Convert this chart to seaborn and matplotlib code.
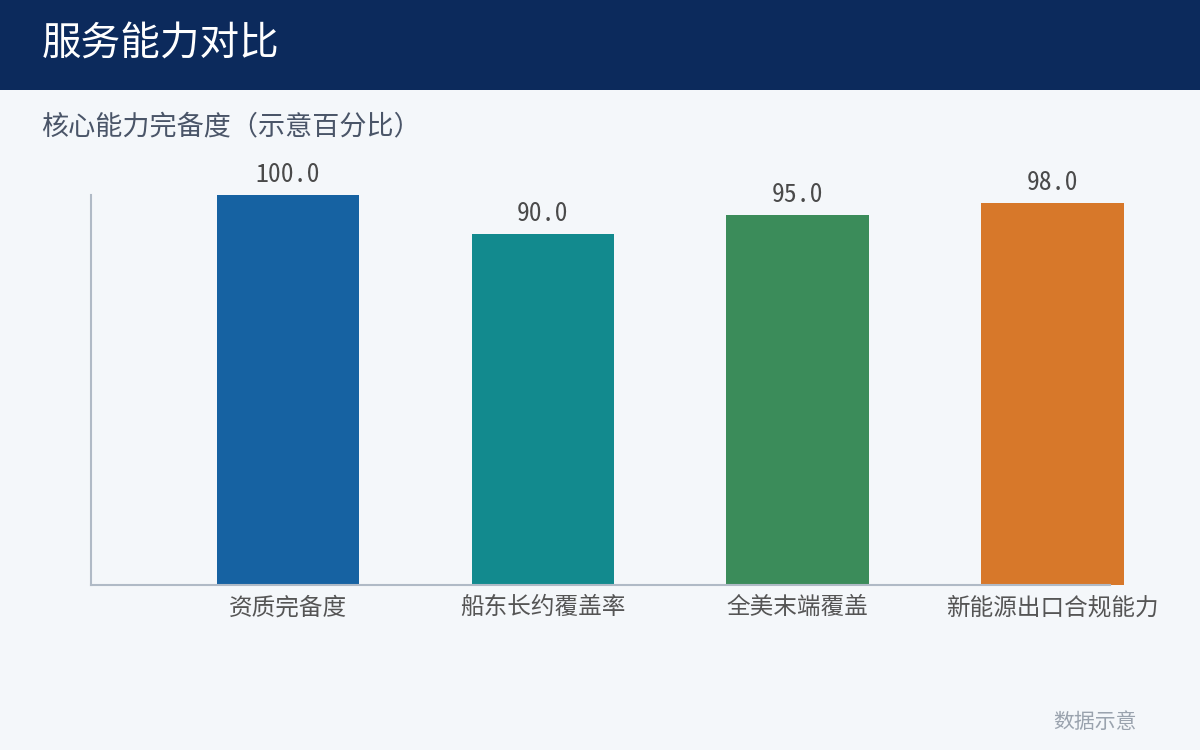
import matplotlib
matplotlib.use("Agg")
import matplotlib.pyplot as plt
import seaborn as sns
import pandas as pd
from matplotlib.patches import Rectangle

categories = ["资质完备度", "船东长约覆盖率", "全美末端覆盖", "新能源出口合规能力"]
values = [100.0, 90.0, 95.0, 98.0]
bar_colors = ["#1662A2", "#128A8E", "#3B8C5A", "#D7782A"]

title = "服务能力对比"
subtitle = "核心能力完备度（示意百分比）"
footnote = "数据示意"

sns.set_theme(style="white")
plt.rcParams["font.family"] = ["Noto Sans CJK SC", "DejaVu Sans"]

bg = "#F4F7FA"
fig = plt.figure(figsize=(12, 7.5), dpi=100, facecolor=bg)

# header band
fig.patches.append(Rectangle((0, 0.88), 1, 0.12, transform=fig.transFigure,
                             facecolor="#0C2A5C", edgecolor="none", zorder=0))
fig.text(0.035, 0.94, title, color="white", fontsize=28.5, va="center", ha="left")
fig.text(0.034, 0.831, subtitle, color="#4A5568", fontsize=19.5, va="center", ha="left")
fig.text(0.947, 0.038, footnote, color="#9AA3AE", fontsize=15, va="center", ha="right")

ax = fig.add_axes([0.0758, 0.22, 0.849, 0.52])
ax.set_facecolor(bg)

df = pd.DataFrame({"cat": categories, "val": values})
sns.barplot(data=df, x="cat", y="val", hue="cat", palette=bar_colors,
            width=0.56, legend=False, ax=ax, saturation=1, linewidth=0)

# last bar pokes past the axis end, as in the reference
for patch in ax.patches:
    patch.set_clip_on(False)

for i, v in enumerate(values):
    ax.annotate(f"{v:.1f}", (i, v), xytext=(0, 5.5), textcoords="offset points",
                ha="center", va="bottom", fontsize=18.5, color="#4A4A4A",
                family=["Noto Sans Mono CJK SC", "Noto Sans CJK SC", "DejaVu Sans"],
                annotation_clip=False)

ax.set_xlim(-0.773, 3.224)
ax.set_ylim(0, 100)
ax.set_yticks([])
ax.set_xlabel("")
ax.set_ylabel("")
ax.tick_params(axis="x", length=0, labelsize=17, labelcolor="#555555", pad=8)

for side in ["top", "right"]:
    ax.spines[side].set_visible(False)
for side in ["left", "bottom"]:
    ax.spines[side].set_color("#B0BAC6")
    ax.spines[side].set_linewidth(1.5)

fig.savefig("out.png", dpi=100, facecolor=bg)
